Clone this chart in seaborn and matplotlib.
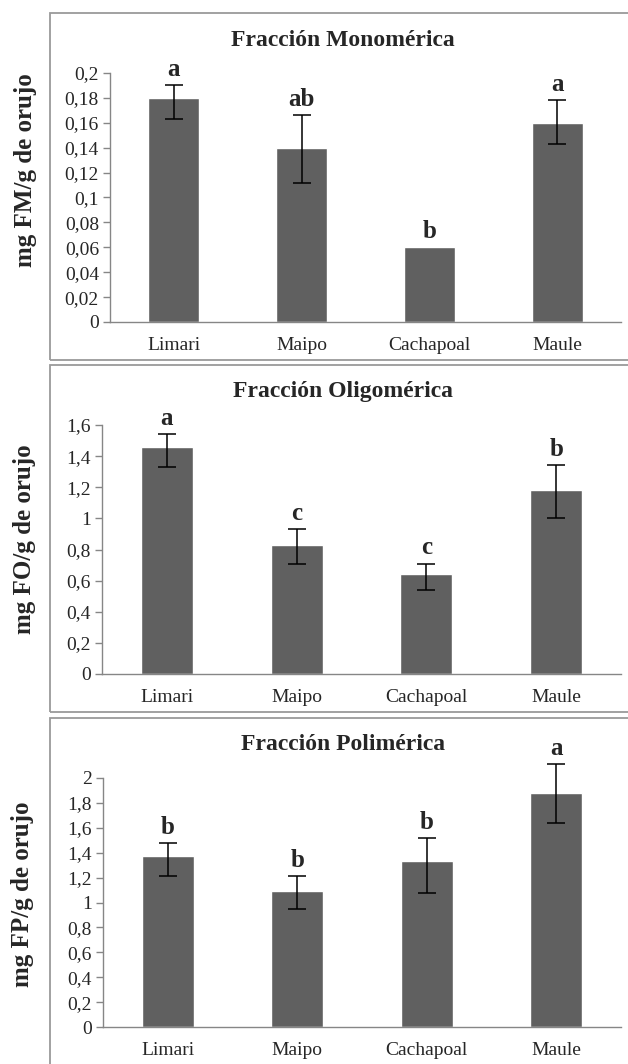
import numpy as np
import pandas as pd
import matplotlib
matplotlib.use("Agg")
import matplotlib.pyplot as plt
from matplotlib.patches import Rectangle
import seaborn as sns

# ---------------- data ----------------
regions = ["Limari", "Maipo", "Cachapoal", "Maule"]

mono_vals = [0.18, 0.14, 0.06, 0.16]
mono_low = [0.163, 0.112, np.nan, 0.143]
mono_high = [0.19, 0.166, np.nan, 0.178]
mono_letters = ["a", "ab", "b", "a"]
mono_ticks = [0, 0.02, 0.04, 0.06, 0.08, 0.1, 0.12, 0.14, 0.16, 0.18, 0.2]

oligo_vals = [1.46, 0.83, 0.64, 1.18]
oligo_low = [1.33, 0.71, 0.54, 1.00]
oligo_high = [1.54, 0.93, 0.71, 1.34]
oligo_letters = ["a", "c", "c", "b"]
oligo_ticks = [0, 0.2, 0.4, 0.6, 0.8, 1.0, 1.2, 1.4, 1.6]

poly_vals = [1.37, 1.09, 1.33, 1.88]
poly_low = [1.21, 0.95, 1.08, 1.64]
poly_high = [1.48, 1.21, 1.52, 2.11]
poly_letters = ["b", "b", "b", "a"]
poly_ticks = [0, 0.2, 0.4, 0.6, 0.8, 1.0, 1.2, 1.4, 1.6, 1.8, 2.0]

titles = ["Fracción Monomérica", "Fracción Oligomérica", "Fracción Polimérica"]
ylabels = ["mg FM/g de orujo", "mg FO/g de orujo", "mg FP/g de orujo"]

# ---------------- style ----------------
sns.set_style("white")
plt.rcParams["font.family"] = ["Liberation Serif", "DejaVu Serif"]

W, H = 628, 1064
fig = plt.figure(figsize=(W / 100, H / 100), dpi=100)

def fx(px):
    return px / W

def fy(py):
    return 1 - py / H

bar_color = "#606060"
spine_color = "#868686"

panels = [
    dict(vals=mono_vals, low=mono_low, high=mono_high, letters=mono_letters,
         ticks=mono_ticks, axbox=(110, 621, 73, 322), box=(50, 13, 360),
         title_y=41, ylab=(26, 170)),
    dict(vals=oligo_vals, low=oligo_low, high=oligo_high, letters=oligo_letters,
         ticks=oligo_ticks, axbox=(102, 621, 425, 674), box=(50, 365, 712),
         title_y=392, ylab=(25, 539)),
    dict(vals=poly_vals, low=poly_low, high=poly_high, letters=poly_letters,
         ticks=poly_ticks, axbox=(103, 621, 778, 1027), box=(50, 718, 1080),
         title_y=745, ylab=(23, 894)),
]

def fmt(v):
    s = ("%.2f" % v).rstrip("0").rstrip(".")
    return s.replace(".", ",")

for i, p in enumerate(panels):
    # panel border
    bx, btop, bbot = p["box"]
    fig.patches.append(Rectangle((fx(bx), fy(bbot)), fx(W + 20 - bx), fy(btop) - fy(bbot),
                                 transform=fig.transFigure, fill=False,
                                 edgecolor="#9a9a9a", linewidth=1.3, zorder=0))

    l, r, t, b = p["axbox"]
    ax = fig.add_axes([fx(l), fy(b), fx(r - l), fy(t) - fy(b)])
    ax.patch.set_alpha(0)

    df = pd.DataFrame({"region": regions, "val": p["vals"]})
    sns.barplot(data=df, x="region", y="val", color=bar_color, width=0.4,
                saturation=1, errorbar=None, ax=ax, zorder=2)

    vals = np.array(p["vals"], dtype=float)
    low = np.array(p["low"], dtype=float)
    high = np.array(p["high"], dtype=float)
    mask = ~np.isnan(low)
    xs = np.arange(len(regions))
    eb = ax.errorbar(xs[mask], vals[mask],
                     yerr=[vals[mask] - low[mask], high[mask] - vals[mask]],
                     fmt="none", ecolor="black", elinewidth=1.1, capsize=6.5,
                     capthick=1.1, zorder=3)
    for art in list(eb.lines[1]) + list(eb.lines[2]):
        art.set_clip_on(False)

    tops = np.where(mask, high, vals)
    for x, top, letter in zip(xs, tops, p["letters"]):
        ax.annotate(letter, (x, top), xytext=(0, 3), textcoords="offset points",
                    ha="center", va="bottom", fontsize=18, fontweight="bold",
                    annotation_clip=False)

    ax.set_xlim(-0.5, 3.5)
    ax.set_ylim(0, p["ticks"][-1])
    ax.set_yticks(p["ticks"])
    ax.set_yticklabels([fmt(v) for v in p["ticks"]], fontsize=14)
    ax.set_xticks(xs)
    ax.set_xticklabels(regions, fontsize=14)
    ax.set_xticks(np.arange(-0.5, 4.0, 1.0), minor=True)
    ax.tick_params(axis="x", which="major", length=0, pad=11)
    ax.tick_params(axis="x", which="minor", length=5, width=1, color=spine_color,
                   direction="out")
    ax.tick_params(axis="y", which="major", length=5, width=1, color=spine_color,
                   direction="out", pad=3, left=True)
    ax.set_xlabel("")
    ax.set_ylabel("")
    for s in ["top", "right"]:
        ax.spines[s].set_visible(False)
    for s in ["left", "bottom"]:
        ax.spines[s].set_color(spine_color)
        ax.spines[s].set_linewidth(1)

    fig.text(fx(343), fy(p["title_y"]), titles[i], ha="center", va="center",
             fontsize=17, fontweight="bold")
    yx, yy = p["ylab"]
    fig.text(fx(yx), fy(yy), ylabels[i], ha="center", va="center", rotation=90,
             fontsize=18, fontweight="bold")

fig.savefig("out.png", dpi=100, facecolor="white")
